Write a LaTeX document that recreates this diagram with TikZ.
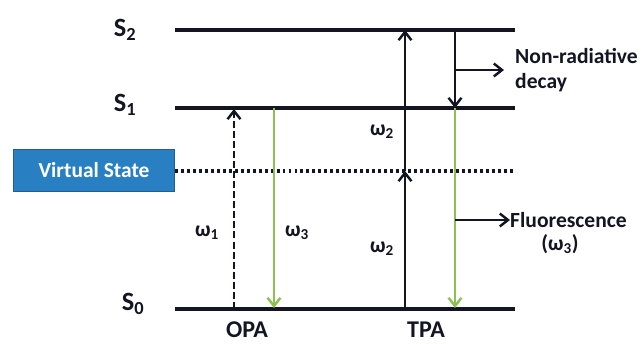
\documentclass[tikz,border=0pt]{standalone}
\usepackage{fontspec}
\setmainfont{Carlito}
\usetikzlibrary{arrows.meta}
\definecolor{ink}{RGB}{20,20,34}
\definecolor{boxfill}{RGB}{40,128,194}
\definecolor{boxedge}{RGB}{36,92,140}
\definecolor{fluo}{RGB}{140,192,84}
\tikzset{
  level/.style={line width=3.3pt, ink},
  virt/.style={line width=2.6pt, ink, dash pattern=on 2.5pt off 2.6pt},
  tip/.style={-{Straight Barb[length=7pt,width=11pt,line width=2.1pt]}},
  trans/.style={line width=2.2pt, ink, tip},
  greentrans/.style={line width=2.1pt, fluo, tip},
  lbl/.style={text=ink, font=\fontsize{20.5}{24}\selectfont\bfseries, inner sep=0pt},
  slbl/.style={text=ink, font=\fontsize{22.5}{26}\selectfont\bfseries, inner sep=0pt},
  wlbl/.style={text=ink, font=\fontsize{18.5}{22}\selectfont\bfseries, inner sep=0pt},
  note/.style={text=ink, font=\fontsize{18.4}{21.5}\selectfont\bfseries, inner sep=0pt, align=left},
}
\begin{document}
\begin{tikzpicture}[x=0.03cm, y=-0.03cm]
\useasboundingbox (0,0) rectangle (641,344);

% energy levels
\coordinate (s2l) at (175,30);  \coordinate (s2r) at (515,30);
\coordinate (s1l) at (175,108); \coordinate (s1r) at (515,108);
\coordinate (vl)  at (175,171); \coordinate (vr)  at (515,171);
\coordinate (s0l) at (175,309); \coordinate (s0r) at (515,309);
\draw[level] (s2l) -- (s2r);
\draw[level] (s1l) -- (s1r);
\draw[level] (s0l) -- (s0r);
\draw[virt] (vl) -- (vr);

% level labels
\node[slbl] (S2) at (125,30) {S\textsubscript{2}};
\node[slbl] (S1) at (125,105) {S\textsubscript{1}};
\node[slbl] (S0) at (133,304) {S\textsubscript{0}};

% virtual state box
\node[draw=boxedge, line width=1pt, fill=boxfill, minimum width=4.83cm, minimum height=1.26cm,
      text=white, font=\fontsize{18.3}{22}\selectfont\bfseries, inner sep=0pt] (vs) at (94,170.5) {Virtual State};

% one-photon absorption
\coordinate (opaB) at (234,309); \coordinate (opaT) at (234,109);
\draw[trans, dash pattern=on 6pt off 2.6pt] (opaB) -- (opaT);
\coordinate (opfT) at (274,108); \coordinate (opfB) at (274,308);
\draw[greentrans] (opfT) -- (opfB);
\node[wlbl] (w1) at (207,233) {ω\textsubscript{1}};
\node[wlbl] (w3a) at (297,233) {ω\textsubscript{3}};
\node[lbl] (opa) at (247,330) {OPA};

% two-photon absorption
\coordinate (tpaB) at (405,309); \coordinate (tpaV) at (405,171); \coordinate (tpaT) at (405,30);
\draw[trans] (tpaB) -- (tpaV);
\draw[trans] (tpaV) -- (tpaT);
\node[wlbl] (w2a) at (382,132) {ω\textsubscript{2}};
\node[wlbl] (w2b) at (382,249) {ω\textsubscript{2}};
\node[lbl] (tpa) at (426,330) {TPA};

% relaxation and emission
\coordinate (decT) at (455,30); \coordinate (decB) at (455,108);
\draw[trans] (decT) -- (decB);
\coordinate (fluT) at (455,108); \coordinate (fluB) at (455,308);
\draw[greentrans] (fluT) -- (fluB);

\coordinate (nrs) at (455,70);
\coordinate (nre) at (504,70);
\node[note, anchor=west] (nr) at (515,70) {Non-radiative\\decay};
\draw[trans] (nrs) -- (nre);

\coordinate (fls) at (455,220);
\node[note, anchor=west] (fl) at (510,220) {Fluorescence};
\node[note] (fl3) at (560,244) {(ω\textsubscript{3})};
\draw[trans] (fls) -- (fl.west);
\end{tikzpicture}
\end{document}
